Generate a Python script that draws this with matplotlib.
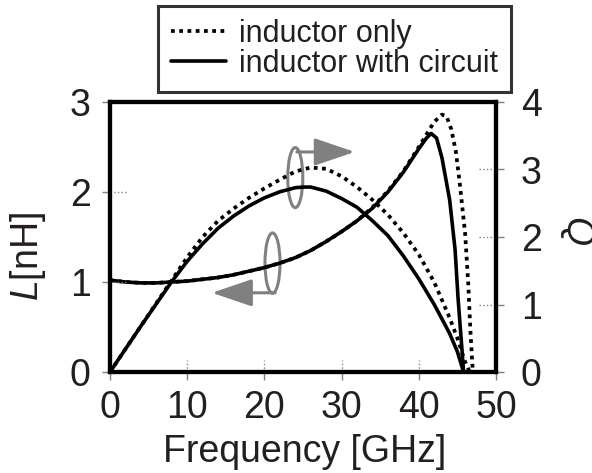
import matplotlib
matplotlib.use("Agg")
import matplotlib.pyplot as plt
from matplotlib.patches import Ellipse
import matplotlib.transforms as mtransforms

plt.rcParams["font.family"] = ["Liberation Sans", "DejaVu Sans"]
plt.rcParams["mathtext.fontset"] = "custom"
plt.rcParams["mathtext.rm"] = "Liberation Sans"
plt.rcParams["mathtext.it"] = "Liberation Sans:italic"

TEXT = "#231f20"
GRAY = "#808080"

# frequency [GHz] / Q values
q_circuit_f = [0, 2, 4, 6, 8, 10, 12, 14, 16, 18, 20, 22, 24, 25, 26, 28, 30,
               32, 34, 36, 38, 40, 42, 44, 45, 45.8]
q_circuit = [0, 0.34, 0.68, 1.01, 1.34, 1.64, 1.90, 2.13, 2.31, 2.46, 2.58,
             2.67, 2.73, 2.74, 2.74, 2.68, 2.57, 2.44, 2.24, 2.02, 1.72, 1.38,
             1.00, 0.57, 0.30, 0]

q_only_f = [0, 2, 4, 6, 8, 10, 12, 14, 16, 18, 20, 22, 24, 26, 28, 30, 32, 34,
            36, 38, 40, 42, 44, 45, 46, 46.6]
q_only = [0, 0.34, 0.68, 1.02, 1.36, 1.70, 2.00, 2.24, 2.42, 2.58, 2.72, 2.85,
          2.97, 3.03, 3.01, 2.90, 2.74, 2.55, 2.33, 2.06, 1.74, 1.33, 0.80,
          0.50, 0.15, 0]

# frequency [GHz] / L [nH]
l_circuit_f = [0, 2, 4, 6, 8, 10, 12, 14, 16, 18, 20, 22, 24, 26, 28, 30, 32,
               34, 36, 38, 40, 41, 41.6, 42.3, 43, 44, 44.7, 45.1, 45.6, 45.8]
l_circuit = [1.02, 1.00, 0.99, 0.99, 1.00, 1.01, 1.03, 1.05, 1.08, 1.12, 1.16,
             1.21, 1.27, 1.35, 1.45, 1.56, 1.68, 1.82, 2.00, 2.22, 2.48, 2.60,
             2.65, 2.60, 2.38, 1.91, 1.36, 0.80, 0.24, 0]

l_only_f = [0, 2, 4, 6, 8, 10, 12, 14, 16, 18, 20, 22, 24, 26, 28, 30, 32, 34,
            36, 38, 40, 41, 42, 43, 43.6, 44.2, 44.8, 45.3, 46.0, 46.4, 46.7,
            47.0]
l_only = [1.02, 1.00, 0.99, 0.99, 1.00, 1.01, 1.03, 1.05, 1.08, 1.12, 1.16,
          1.21, 1.27, 1.35, 1.45, 1.56, 1.68, 1.83, 2.01, 2.23, 2.50, 2.64,
          2.78, 2.86, 2.84, 2.70, 2.45, 2.10, 1.54, 0.99, 0.43, 0]

x_ticks = [0, 10, 20, 30, 40, 50]
l_ticks = [0, 1, 2, 3]
q_ticks = [0, 1, 2, 3, 4]

fig = plt.figure(figsize=(5.92, 4.73), dpi=100)
ax = fig.add_axes([110 / 592, 1 - 372 / 473, 386 / 592, 270 / 473])
ax2 = ax.twinx()

dot = dict(color="black", lw=2.7, ls=(0, (1, 1.2)), dash_capstyle="butt")
solid = dict(color="black", lw=2.6, solid_capstyle="round")

ax.plot(l_only_f, l_only, **dot)
ax.plot(l_circuit_f, l_circuit, **solid)
ax2.plot(q_only_f, q_only, label="inductor only", **dot)
ax2.plot(q_circuit_f, q_circuit, label="inductor with circuit", **solid)

ax.set_xlim(0, 50)
ax.set_ylim(0, 3)
ax2.set_ylim(0, 4)
ax.set_xticks(x_ticks)
ax.set_yticks(l_ticks)
ax2.set_yticks(q_ticks)

for a in (ax, ax2):
    for s in a.spines.values():
        s.set_linewidth(3)
        s.set_color("black")
    a.tick_params(labelsize=27, labelcolor=TEXT, color=GRAY, length=6,
                  width=1, direction="out")
ax.tick_params(axis="y", pad=8)
ax.tick_params(axis="x", pad=7)
ax2.tick_params(axis="y", pad=12)

# short dotted stubs inside the frame at the ticks
bx = mtransforms.blended_transform_factory(ax.transData, ax.transAxes)
for t in x_ticks[1:-1]:
    ax.plot([t, t], [0, 0.045], transform=bx, color=GRAY, lw=1, ls=":")
by = mtransforms.blended_transform_factory(ax.transAxes, ax.transData)
for t in l_ticks[1:-1]:
    ax.plot([0, 0.045], [t, t], transform=by, color=GRAY, lw=1, ls=":")
by2 = mtransforms.blended_transform_factory(ax2.transAxes, ax2.transData)
for t in q_ticks[1:-1]:
    ax2.plot([0.955, 1], [t, t], transform=by2, color=GRAY, lw=1, ls=":")

# ellipses + arrows pointing to the axis of each curve
ax2.add_patch(Ellipse((24.0, 2.88), 1.95, 0.89, fill=False, ec=GRAY, lw=2.2))
ax2.annotate("", xy=(31.7, 3.26), xytext=(24.2, 3.26),
             arrowprops=dict(arrowstyle="-|>,head_length=2.5,head_width=0.85",
                             mutation_scale=10, color=GRAY, lw=2.2,
                             shrinkA=0, shrinkB=0))
ax.add_patch(Ellipse((21.05, 1.21), 1.95, 0.67, fill=False, ec=GRAY, lw=2.2))
ax.annotate("", xy=(13.2, 0.88), xytext=(21.4, 0.88),
            arrowprops=dict(arrowstyle="-|>,head_length=2.5,head_width=0.85",
                            mutation_scale=10, color=GRAY, lw=2.2,
                            shrinkA=0, shrinkB=0))

fig.text(28 / 592, 1 - 257 / 473, r"$\mathit{L}$[nH]", rotation=90,
         ha="center", va="center", fontsize=27, color=TEXT)
fig.text(575 / 592, 1 - 232 / 473, "Q", rotation=270, style="italic",
         ha="center", va="center", fontsize=27, color=TEXT)
fig.text(305 / 592, 1 - 462 / 473, "Frequency [GHz]", ha="center",
         va="baseline", fontsize=27, color=TEXT)

leg = fig.legend(loc="upper left", bbox_to_anchor=(158 / 592, 1 - 6 / 473),
                 borderaxespad=0, fontsize=22, frameon=True, fancybox=False,
                 handlelength=1.8, handletextpad=0.43, borderpad=0.42,
                 labelspacing=0.0)
leg.get_frame().set_edgecolor("black")
leg.get_frame().set_linewidth(2.2)
for t in leg.get_texts():
    t.set_color(TEXT)

fig.savefig("out.png", dpi=100)
